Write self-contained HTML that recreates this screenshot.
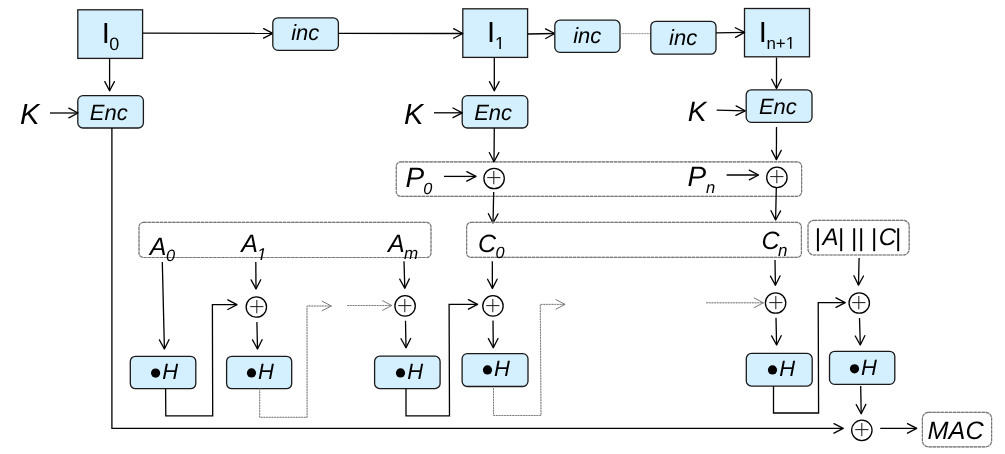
<!DOCTYPE html>
<html><head><meta charset="utf-8"><style>
html,body{margin:0;padding:0;background:#fff;}
svg{display:block;will-change:transform;}
text{font-family:"Liberation Sans",sans-serif;fill:#000;text-rendering:geometricPrecision;}
</style></head><body>
<svg width="1005" height="454" viewBox="0 0 1005 454">
<rect width="1005" height="454" fill="#fff"/>
<rect x="77.8" y="9.8" width="64.80" height="48.60" rx="0" fill="#d4effd" stroke="#1a1a1a" stroke-width="1.3"/>
<rect x="462.8" y="8.8" width="64.80" height="48.60" rx="0" fill="#d4effd" stroke="#1a1a1a" stroke-width="1.3"/>
<rect x="744.5" y="8.5" width="65.00" height="48.30" rx="0" fill="#d4effd" stroke="#1a1a1a" stroke-width="1.3"/>
<line x1="142.6" y1="33.2" x2="272.8" y2="33.4" stroke="#000" stroke-width="1.3"/>
<polyline points="263.59,38.19 272.8,33.4 263.61,28.59" fill="none" stroke="#000" stroke-width="1.3" stroke-linejoin="round" stroke-linecap="round"/>
<rect x="272.8" y="17.8" width="65.60" height="32.60" rx="5.2" fill="#d4effd" stroke="#1a1a1a" stroke-width="1.3"/>
<line x1="338.4" y1="33.4" x2="462.8" y2="33.5" stroke="#000" stroke-width="1.3"/>
<polyline points="453.60,38.29 462.8,33.5 453.60,28.69" fill="none" stroke="#000" stroke-width="1.3" stroke-linejoin="round" stroke-linecap="round"/>
<line x1="527.6" y1="34.0" x2="554.8" y2="33.5" stroke="#000" stroke-width="1.3"/>
<polyline points="545.69,38.47 554.8,33.5 545.51,28.87" fill="none" stroke="#000" stroke-width="1.3" stroke-linejoin="round" stroke-linecap="round"/>
<rect x="554.8" y="20.2" width="65.20" height="32.20" rx="5.2" fill="#d4effd" stroke="#1a1a1a" stroke-width="1.3"/>
<line x1="620.0" y1="33.6" x2="650.8" y2="33.6" stroke="#d2d2d2" stroke-width="1.0"/>
<line x1="620.0" y1="33.6" x2="650.8" y2="33.6" stroke="#9a9a9a" stroke-width="1.0" stroke-dasharray="1.5,1.2"/>
<rect x="650.8" y="21.3" width="65.20" height="32.90" rx="5.2" fill="#d4effd" stroke="#1a1a1a" stroke-width="1.3"/>
<line x1="716.0" y1="32.9" x2="744.6" y2="32.4" stroke="#000" stroke-width="1.3"/>
<polyline points="735.49,37.36 744.6,32.4 735.32,27.76" fill="none" stroke="#000" stroke-width="1.3" stroke-linejoin="round" stroke-linecap="round"/>
<line x1="109.6" y1="58.4" x2="109.6" y2="90.8" stroke="#000" stroke-width="1.3"/>
<polyline points="104.80,81.60 109.6,90.8 114.40,81.60" fill="none" stroke="#000" stroke-width="1.3" stroke-linejoin="round" stroke-linecap="round"/>
<line x1="494.3" y1="57.4" x2="494.3" y2="90.8" stroke="#000" stroke-width="1.3"/>
<polyline points="489.50,81.60 494.3,90.8 499.10,81.60" fill="none" stroke="#000" stroke-width="1.3" stroke-linejoin="round" stroke-linecap="round"/>
<line x1="776.5" y1="57.6" x2="776.5" y2="88.5" stroke="#000" stroke-width="1.3"/>
<polyline points="771.70,79.30 776.5,88.5 781.30,79.30" fill="none" stroke="#000" stroke-width="1.3" stroke-linejoin="round" stroke-linecap="round"/>
<rect x="77.8" y="95.6" width="65.60" height="32.40" rx="5.2" fill="#d4effd" stroke="#1a1a1a" stroke-width="1.3"/>
<rect x="462.2" y="95.6" width="65.60" height="32.40" rx="5.2" fill="#d4effd" stroke="#1a1a1a" stroke-width="1.3"/>
<rect x="746.2" y="89.8" width="65.80" height="32.60" rx="5.2" fill="#d4effd" stroke="#1a1a1a" stroke-width="1.3"/>
<line x1="50.0" y1="113.0" x2="78.0" y2="113.0" stroke="#000" stroke-width="1.3"/>
<polyline points="68.80,117.80 78.0,113.0 68.80,108.20" fill="none" stroke="#000" stroke-width="1.3" stroke-linejoin="round" stroke-linecap="round"/>
<line x1="434.0" y1="112.8" x2="462.2" y2="112.8" stroke="#000" stroke-width="1.3"/>
<polyline points="453.00,117.60 462.2,112.8 453.00,108.00" fill="none" stroke="#000" stroke-width="1.3" stroke-linejoin="round" stroke-linecap="round"/>
<line x1="716.7" y1="110.2" x2="745.2" y2="110.8" stroke="#000" stroke-width="1.3"/>
<polyline points="735.90,115.41 745.2,110.8 736.10,105.81" fill="none" stroke="#000" stroke-width="1.3" stroke-linejoin="round" stroke-linecap="round"/>
<rect x="396.3" y="161.8" width="405.30" height="34.50" rx="4.5" fill="none" stroke="#c4c4c4" stroke-width="1.15"/>
<rect x="396.3" y="161.8" width="405.30" height="34.50" rx="4.5" fill="none" stroke="#787878" stroke-width="1.15" stroke-dasharray="3.2,0.9"/>
<line x1="494.3" y1="128.0" x2="494.0" y2="161.8" stroke="#000" stroke-width="1.3"/>
<polyline points="489.28,152.56 494.0,161.8 498.88,152.64" fill="none" stroke="#000" stroke-width="1.3" stroke-linejoin="round" stroke-linecap="round"/>
<line x1="776.5" y1="127.1" x2="776.4" y2="159.6" stroke="#000" stroke-width="1.3"/>
<polyline points="771.63,150.39 776.4,159.6 781.23,150.41" fill="none" stroke="#000" stroke-width="1.3" stroke-linejoin="round" stroke-linecap="round"/>
<circle cx="494.1" cy="178.5" r="10.2" fill="#fff" stroke="#000" stroke-width="1.3"/>
<line x1="487.2" y1="177.6" x2="500.40000000000003" y2="177.6" stroke="#222" stroke-width="1.05"/>
<line x1="493.8" y1="171.0" x2="493.8" y2="184.2" stroke="#222" stroke-width="1.05"/>
<circle cx="776.9" cy="177.4" r="10.2" fill="#fff" stroke="#000" stroke-width="1.3"/>
<line x1="770.1999999999999" y1="176.6" x2="783.4" y2="176.6" stroke="#222" stroke-width="1.05"/>
<line x1="776.8" y1="170.0" x2="776.8" y2="183.2" stroke="#222" stroke-width="1.05"/>
<line x1="444.0" y1="176.4" x2="476.0" y2="176.4" stroke="#000" stroke-width="1.3"/>
<polyline points="466.80,181.20 476.0,176.4 466.80,171.60" fill="none" stroke="#000" stroke-width="1.3" stroke-linejoin="round" stroke-linecap="round"/>
<line x1="726.6" y1="175.0" x2="758.5" y2="175.0" stroke="#000" stroke-width="1.3"/>
<polyline points="749.30,179.80 758.5,175.0 749.30,170.20" fill="none" stroke="#000" stroke-width="1.3" stroke-linejoin="round" stroke-linecap="round"/>
<line x1="493.7" y1="192.0" x2="493.0" y2="223.0" stroke="#000" stroke-width="1.3"/>
<polyline points="488.41,213.69 493.0,223.0 498.01,213.91" fill="none" stroke="#000" stroke-width="1.3" stroke-linejoin="round" stroke-linecap="round"/>
<line x1="776.3" y1="188.0" x2="775.6" y2="220.0" stroke="#000" stroke-width="1.3"/>
<polyline points="771.00,210.70 775.6,220.0 780.60,210.91" fill="none" stroke="#000" stroke-width="1.3" stroke-linejoin="round" stroke-linecap="round"/>
<rect x="139.0" y="222.4" width="292.00" height="35.10" rx="4.5" fill="none" stroke="#c4c4c4" stroke-width="1.15"/>
<rect x="139.0" y="222.4" width="292.00" height="35.10" rx="4.5" fill="none" stroke="#787878" stroke-width="1.15" stroke-dasharray="3.2,0.9"/>
<rect x="466.6" y="222.4" width="334.80" height="35.00" rx="4.5" fill="none" stroke="#c4c4c4" stroke-width="1.15"/>
<rect x="466.6" y="222.4" width="334.80" height="35.00" rx="4.5" fill="none" stroke="#787878" stroke-width="1.15" stroke-dasharray="3.2,0.9"/>
<rect x="808.0" y="220.3" width="101.20" height="34.70" rx="6" fill="none" stroke="#c4c4c4" stroke-width="1.15"/>
<rect x="808.0" y="220.3" width="101.20" height="34.70" rx="6" fill="none" stroke="#787878" stroke-width="1.15" stroke-dasharray="3.2,0.9"/>
<line x1="162.3" y1="262.0" x2="164.4" y2="349.0" stroke="#000" stroke-width="1.3"/>
<polyline points="159.38,339.92 164.4,349.0 168.98,339.69" fill="none" stroke="#000" stroke-width="1.3" stroke-linejoin="round" stroke-linecap="round"/>
<line x1="255.8" y1="262.0" x2="256.0" y2="289.0" stroke="#000" stroke-width="1.3"/>
<polyline points="251.13,279.84 256.0,289.0 260.73,279.76" fill="none" stroke="#000" stroke-width="1.3" stroke-linejoin="round" stroke-linecap="round"/>
<circle cx="256.35" cy="307.0" r="10.2" fill="#fff" stroke="#000" stroke-width="1.3"/>
<line x1="250.20000000000002" y1="306.6" x2="263.40000000000003" y2="306.6" stroke="#222" stroke-width="1.05"/>
<line x1="256.8" y1="300.0" x2="256.8" y2="313.20000000000005" stroke="#222" stroke-width="1.05"/>
<line x1="256.9" y1="322.0" x2="257.5" y2="349.0" stroke="#000" stroke-width="1.3"/>
<polyline points="252.50,339.91 257.5,349.0 262.09,339.70" fill="none" stroke="#000" stroke-width="1.3" stroke-linejoin="round" stroke-linecap="round"/>
<line x1="404.0" y1="261.2" x2="404.8" y2="288.2" stroke="#000" stroke-width="1.3"/>
<polyline points="399.73,279.15 404.8,288.2 409.33,278.86" fill="none" stroke="#000" stroke-width="1.3" stroke-linejoin="round" stroke-linecap="round"/>
<circle cx="405.1" cy="305.9" r="10.2" fill="#fff" stroke="#000" stroke-width="1.3"/>
<line x1="398.2" y1="305.6" x2="411.40000000000003" y2="305.6" stroke="#222" stroke-width="1.05"/>
<line x1="404.8" y1="299.0" x2="404.8" y2="312.20000000000005" stroke="#222" stroke-width="1.05"/>
<line x1="405.5" y1="320.7" x2="406.0" y2="347.8" stroke="#000" stroke-width="1.3"/>
<polyline points="401.03,338.69 406.0,347.8 410.63,338.51" fill="none" stroke="#000" stroke-width="1.3" stroke-linejoin="round" stroke-linecap="round"/>
<line x1="492.3" y1="261.2" x2="492.4" y2="288.4" stroke="#000" stroke-width="1.3"/>
<polyline points="487.57,279.22 492.4,288.4 497.17,279.18" fill="none" stroke="#000" stroke-width="1.3" stroke-linejoin="round" stroke-linecap="round"/>
<circle cx="492.95" cy="305.9" r="10.2" fill="#fff" stroke="#000" stroke-width="1.3"/>
<line x1="486.2" y1="305.6" x2="499.40000000000003" y2="305.6" stroke="#222" stroke-width="1.05"/>
<line x1="492.8" y1="299.0" x2="492.8" y2="312.20000000000005" stroke="#222" stroke-width="1.05"/>
<line x1="493.0" y1="320.4" x2="493.3" y2="347.8" stroke="#000" stroke-width="1.3"/>
<polyline points="488.40,338.65 493.3,347.8 498.00,338.55" fill="none" stroke="#000" stroke-width="1.3" stroke-linejoin="round" stroke-linecap="round"/>
<line x1="775.0" y1="260.0" x2="775.4" y2="285.2" stroke="#000" stroke-width="1.3"/>
<polyline points="770.45,276.08 775.4,285.2 780.05,275.92" fill="none" stroke="#000" stroke-width="1.3" stroke-linejoin="round" stroke-linecap="round"/>
<circle cx="775.6" cy="303.0" r="10.2" fill="#fff" stroke="#000" stroke-width="1.3"/>
<line x1="769.1999999999999" y1="302.6" x2="782.4" y2="302.6" stroke="#222" stroke-width="1.05"/>
<line x1="775.8" y1="296.0" x2="775.8" y2="309.20000000000005" stroke="#222" stroke-width="1.05"/>
<line x1="776.0" y1="317.7" x2="776.6" y2="345.0" stroke="#000" stroke-width="1.3"/>
<polyline points="771.60,335.91 776.6,345.0 781.20,335.70" fill="none" stroke="#000" stroke-width="1.3" stroke-linejoin="round" stroke-linecap="round"/>
<line x1="859.1" y1="258.0" x2="858.5" y2="285.1" stroke="#000" stroke-width="1.3"/>
<polyline points="853.90,275.80 858.5,285.1 863.50,276.01" fill="none" stroke="#000" stroke-width="1.3" stroke-linejoin="round" stroke-linecap="round"/>
<circle cx="859.25" cy="303.0" r="10.2" fill="#fff" stroke="#000" stroke-width="1.3"/>
<line x1="852.1999999999999" y1="302.6" x2="865.4" y2="302.6" stroke="#222" stroke-width="1.05"/>
<line x1="858.8" y1="296.0" x2="858.8" y2="309.20000000000005" stroke="#222" stroke-width="1.05"/>
<line x1="859.5" y1="318.1" x2="860.3" y2="345.0" stroke="#000" stroke-width="1.3"/>
<polyline points="855.23,335.95 860.3,345.0 864.82,335.66" fill="none" stroke="#000" stroke-width="1.3" stroke-linejoin="round" stroke-linecap="round"/>
<rect x="130.3" y="356.3" width="65.50" height="32.40" rx="5.2" fill="#d4effd" stroke="#1a1a1a" stroke-width="1.3"/>
<circle cx="155.6" cy="373.1" r="4.6" fill="#000"/>
<rect x="226.6" y="356.3" width="65.10" height="32.40" rx="5.2" fill="#d4effd" stroke="#1a1a1a" stroke-width="1.3"/>
<circle cx="251.5" cy="372.9" r="4.6" fill="#000"/>
<rect x="374.6" y="356.2" width="65.50" height="32.40" rx="5.2" fill="#d4effd" stroke="#1a1a1a" stroke-width="1.3"/>
<circle cx="400.5" cy="372.9" r="4.6" fill="#000"/>
<rect x="462.1" y="353.6" width="65.90" height="32.90" rx="5.2" fill="#d4effd" stroke="#1a1a1a" stroke-width="1.3"/>
<circle cx="487.5" cy="369.9" r="4.6" fill="#000"/>
<rect x="746.3" y="353.4" width="65.90" height="32.70" rx="5.2" fill="#d4effd" stroke="#1a1a1a" stroke-width="1.3"/>
<circle cx="772.5" cy="369.9" r="4.6" fill="#000"/>
<rect x="829.5" y="351.3" width="65.30" height="33.10" rx="5.2" fill="#d4effd" stroke="#1a1a1a" stroke-width="1.3"/>
<circle cx="854.5" cy="368.8" r="4.6" fill="#000"/>
<polyline points="165.6,388.7 165.8,415.8 212.7,415.8 212.4,304.7 237.0,304.7" fill="none" stroke="#000" stroke-width="1.3" stroke-linejoin="miter"/>
<polyline points="227.80,309.50 237.0,304.7 227.80,299.90" fill="none" stroke="#000" stroke-width="1.3" stroke-linejoin="round" stroke-linecap="round"/>
<polyline points="259.7,388.7 259.7,417.3 307.1,417.3 307.0,306.0 331.3,306.0" fill="none" stroke="#d2d2d2" stroke-width="1.0"/>
<polyline points="259.7,388.7 259.7,417.3 307.1,417.3 307.0,306.0 331.3,306.0" fill="none" stroke="#7a7a7a" stroke-width="1.0" stroke-dasharray="1.7,1.0" stroke-linejoin="miter"/>
<polyline points="322.10,310.80 331.3,306.0 322.10,301.20" fill="none" stroke="#7a7a7a" stroke-width="1.0" stroke-linejoin="round" stroke-linecap="round"/>
<line x1="347.2" y1="305.5" x2="391.8" y2="305.5" stroke="#d2d2d2" stroke-width="1.0"/>
<line x1="347.2" y1="305.5" x2="391.8" y2="305.5" stroke="#7a7a7a" stroke-width="1.0" stroke-dasharray="1.7,1.0"/>
<polyline points="382.60,310.30 391.8,305.5 382.60,300.70" fill="none" stroke="#7a7a7a" stroke-width="1.0" stroke-linejoin="round" stroke-linecap="round"/>
<polyline points="406.0,388.6 406.0,415.8 449.5,415.8 449.1,304.4 477.6,304.4" fill="none" stroke="#000" stroke-width="1.3" stroke-linejoin="miter"/>
<polyline points="468.40,309.20 477.6,304.4 468.40,299.60" fill="none" stroke="#000" stroke-width="1.3" stroke-linejoin="round" stroke-linecap="round"/>
<polyline points="493.5,388.3 493.5,415.5 541.0,415.5 540.3,304.4 565.1,304.4" fill="none" stroke="#d2d2d2" stroke-width="1.0"/>
<polyline points="493.5,388.3 493.5,415.5 541.0,415.5 540.3,304.4 565.1,304.4" fill="none" stroke="#7a7a7a" stroke-width="1.0" stroke-dasharray="1.7,1.0" stroke-linejoin="miter"/>
<polyline points="555.90,309.20 565.1,304.4 555.90,299.60" fill="none" stroke="#7a7a7a" stroke-width="1.0" stroke-linejoin="round" stroke-linecap="round"/>
<line x1="706.2" y1="302.8" x2="763.4" y2="302.8" stroke="#d2d2d2" stroke-width="1.0"/>
<line x1="706.2" y1="302.8" x2="763.4" y2="302.8" stroke="#7a7a7a" stroke-width="1.0" stroke-dasharray="1.7,1.0"/>
<polyline points="754.20,307.60 763.4,302.8 754.20,298.00" fill="none" stroke="#7a7a7a" stroke-width="1.0" stroke-linejoin="round" stroke-linecap="round"/>
<polyline points="773.5,386.1 773.5,413.0 818.6,413.0 818.2,302.6 845.2,302.6" fill="none" stroke="#000" stroke-width="1.3" stroke-linejoin="miter"/>
<polyline points="836.00,307.40 845.2,302.6 836.00,297.80" fill="none" stroke="#000" stroke-width="1.3" stroke-linejoin="round" stroke-linecap="round"/>
<line x1="860.7" y1="386.0" x2="861.2" y2="413.7" stroke="#000" stroke-width="1.3"/>
<polyline points="856.23,404.59 861.2,413.7 865.83,404.41" fill="none" stroke="#000" stroke-width="1.3" stroke-linejoin="round" stroke-linecap="round"/>
<polyline points="111.9,128.0 111.9,428.4 843.2,428.4" fill="none" stroke="#000" stroke-width="1.3" stroke-linejoin="miter"/>
<polyline points="834.00,433.20 843.2,428.4 834.00,423.60" fill="none" stroke="#000" stroke-width="1.3" stroke-linejoin="round" stroke-linecap="round"/>
<circle cx="861.85" cy="430.35" r="10.2" fill="#fff" stroke="#000" stroke-width="1.3"/>
<line x1="855.1999999999999" y1="429.6" x2="868.4" y2="429.6" stroke="#222" stroke-width="1.05"/>
<line x1="861.8" y1="423.0" x2="861.8" y2="436.20000000000005" stroke="#222" stroke-width="1.05"/>
<line x1="880.2" y1="428.4" x2="916.7" y2="428.4" stroke="#000" stroke-width="1.3"/>
<polyline points="907.50,433.20 916.7,428.4 907.50,423.60" fill="none" stroke="#000" stroke-width="1.3" stroke-linejoin="round" stroke-linecap="round"/>
<rect x="922.4" y="412.4" width="69.20" height="34.40" rx="6" fill="none" stroke="#c4c4c4" stroke-width="1.15"/>
<rect x="922.4" y="412.4" width="69.20" height="34.40" rx="6" fill="none" stroke="#787878" stroke-width="1.15" stroke-dasharray="3.2,0.9"/>
<g id="I0"><text x="101.81" y="43.30" font-size="29.12" font-style="normal" text-anchor="start">I</text></g>
<g id="I0s"><text x="109.37" y="50.04" font-size="18.00" font-style="normal" text-anchor="start">0</text></g>
<g id="I1"><text x="486.90" y="42.20" font-size="29.12" font-style="normal" text-anchor="start">I</text></g>
<g id="I1s"><path transform="translate(495.03,48.99) scale(0.00844,-0.00844)" d="M515,0 L515,1237 L197,1010 L197,1180 L530,1409 L696,1409 L696,0 Z"/></g>
<g id="In"><text x="758.87" y="42.05" font-size="29.12" font-style="normal" text-anchor="start">I</text></g>
<g id="Ins"><text x="766.44" y="48.64" font-size="16.92" font-style="normal" text-anchor="start">n+</text><path transform="translate(785.73,48.64) scale(0.00826,-0.00826)" d="M515,0 L515,1237 L197,1010 L197,1180 L530,1409 L696,1409 L696,0 Z"/></g>
<g id="inc1"><text x="305.22" y="40.17" font-size="22.00" font-style="italic" text-anchor="middle">inc</text></g>
<g id="inc2"><text x="587.23" y="43.17" font-size="22.00" font-style="italic" text-anchor="middle">inc</text></g>
<g id="inc3"><text x="683.11" y="45.18" font-size="22.00" font-style="italic" text-anchor="middle">inc</text></g>
<g id="Enc1"><text x="108.74" y="119.69" font-size="22.00" font-style="italic" text-anchor="middle">Enc</text></g>
<g id="Enc2"><text x="493.16" y="119.96" font-size="22.00" font-style="italic" text-anchor="middle">Enc</text></g>
<g id="Enc3"><text x="777.88" y="113.91" font-size="22.00" font-style="italic" text-anchor="middle">Enc</text></g>
<g id="K1"><text x="19.91" y="124.15" font-size="29.12" font-style="italic" text-anchor="start">K</text></g>
<g id="K2"><text x="404.02" y="123.95" font-size="28.98" font-style="italic" text-anchor="start">K</text></g>
<g id="K3"><text x="687.67" y="121.18" font-size="28.00" font-style="italic" text-anchor="start">K</text></g>
<g id="P0"><text x="405.60" y="186.66" font-size="28.00" font-style="italic" text-anchor="start">P</text></g>
<g id="P0s"><text x="423.33" y="193.94" font-size="16.30" font-style="italic" text-anchor="start">0</text></g>
<g id="Pn"><text x="687.56" y="186.11" font-size="28.00" font-style="italic" text-anchor="start">P</text></g>
<g id="Pns"><text x="705.95" y="192.96" font-size="16.60" font-style="italic" text-anchor="start">n</text></g>
<g id="A0"><text x="149.71" y="254.56" font-size="25.00" font-style="italic" text-anchor="start">A</text></g>
<g id="A0s"><text x="165.89" y="260.68" font-size="16.40" font-style="italic" text-anchor="start">0</text></g>
<g id="A1"><text x="241.29" y="251.98" font-size="25.00" font-style="italic" text-anchor="start">A</text></g>
<g id="A1s"><path transform="translate(256.99,259.89) scale(0.00830,-0.00830)" d="M412,0 L650,1223 L289,1000 L324,1180 L701,1409 L867,1409 L593,0 Z"/></g>
<g id="Am"><text x="388.00" y="252.04" font-size="25.00" font-style="italic" text-anchor="start">A</text></g>
<g id="Ams"><text x="404.12" y="258.89" font-size="17.00" font-style="italic" text-anchor="start">m</text></g>
<g id="C0"><text x="477.95" y="252.46" font-size="25.00" font-style="italic" text-anchor="start">C</text></g>
<g id="C0s"><text x="495.54" y="258.44" font-size="16.30" font-style="italic" text-anchor="start">0</text></g>
<g id="Cn"><text x="761.46" y="249.23" font-size="25.00" font-style="italic" text-anchor="start">C</text></g>
<g id="Cns"><text x="777.99" y="256.22" font-size="17.00" font-style="italic" text-anchor="start">n</text></g>
<g id="bar0"><text x="817.81" y="246.13" font-size="24.48" font-style="normal" text-anchor="middle">|</text></g>
<g id="bar1"><text x="841.19" y="246.13" font-size="24.48" font-style="normal" text-anchor="middle">|</text></g>
<g id="bar2"><text x="854.08" y="246.13" font-size="24.48" font-style="normal" text-anchor="middle">|</text></g>
<g id="bar3"><text x="861.08" y="246.13" font-size="24.48" font-style="normal" text-anchor="middle">|</text></g>
<g id="bar4"><text x="874.08" y="246.13" font-size="24.48" font-style="normal" text-anchor="middle">|</text></g>
<g id="bar5"><text x="898.08" y="246.13" font-size="24.48" font-style="normal" text-anchor="middle">|</text></g>
<g id="Aa"><text x="822.51" y="245.28" font-size="24.00" font-style="italic" text-anchor="start">A</text></g>
<g id="Cc"><text x="878.75" y="245.06" font-size="24.00" font-style="italic" text-anchor="start">C</text></g>
<g id="H0"><text x="162.15" y="378.98" font-size="22.00" font-style="italic" text-anchor="start">H</text></g>
<g id="H1"><text x="258.10" y="379.18" font-size="22.00" font-style="italic" text-anchor="start">H</text></g>
<g id="H2"><text x="407.17" y="379.18" font-size="22.00" font-style="italic" text-anchor="start">H</text></g>
<g id="H3"><text x="494.10" y="376.18" font-size="22.00" font-style="italic" text-anchor="start">H</text></g>
<g id="H4"><text x="779.19" y="376.18" font-size="22.00" font-style="italic" text-anchor="start">H</text></g>
<g id="H5"><text x="861.12" y="374.63" font-size="22.00" font-style="italic" text-anchor="start">H</text></g>
<g id="MAC"><text x="927.60" y="438.95" font-size="25.20" font-style="italic" text-anchor="start">MAC</text></g>
</svg>
</body></html>
